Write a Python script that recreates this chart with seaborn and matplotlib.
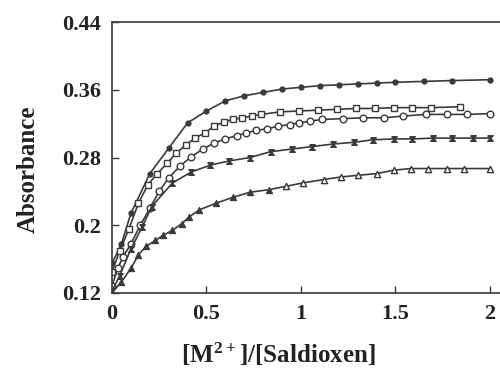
import numpy as np
import pandas as pd
import matplotlib
matplotlib.use("Agg")
import matplotlib.pyplot as plt
import seaborn as sns

# ---- data ----
x1 = [0.0, 0.05, 0.1, 0.2, 0.3, 0.4, 0.5, 0.6, 0.7, 0.8, 0.9, 1.0, 1.1, 1.2, 1.3, 1.4, 1.5, 1.65, 1.8, 2.0]
y1 = [0.155, 0.178, 0.214, 0.261, 0.291, 0.321, 0.335, 0.347, 0.353, 0.357, 0.361, 0.363, 0.365, 0.366, 0.367, 0.368, 0.369, 0.370, 0.371, 0.372]

x2 = [0.0, 0.04, 0.09, 0.14, 0.19, 0.24, 0.29, 0.34, 0.39, 0.44, 0.49, 0.54, 0.59, 0.64, 0.69, 0.74, 0.79, 0.89, 0.99, 1.09, 1.19, 1.29, 1.39, 1.49, 1.59, 1.69, 1.84]
y2 = [0.145, 0.169, 0.196, 0.226, 0.248, 0.261, 0.273, 0.285, 0.295, 0.303, 0.309, 0.317, 0.322, 0.325, 0.327, 0.329, 0.331, 0.334, 0.335, 0.336, 0.337, 0.338, 0.338, 0.339, 0.339, 0.339, 0.340]

x3 = [0.0, 0.03, 0.06, 0.1, 0.15, 0.2, 0.25, 0.3, 0.36, 0.42, 0.48, 0.54, 0.6, 0.66, 0.71, 0.76, 0.82, 0.88, 0.94, 0.99, 1.05, 1.11, 1.22, 1.33, 1.44, 1.54, 1.66, 1.77, 1.88, 2.0]
y3 = [0.128, 0.149, 0.163, 0.178, 0.200, 0.220, 0.240, 0.256, 0.270, 0.281, 0.290, 0.297, 0.302, 0.306, 0.309, 0.312, 0.314, 0.317, 0.319, 0.321, 0.323, 0.325, 0.326, 0.327, 0.327, 0.329, 0.331, 0.331, 0.331, 0.332]

x4 = [0.0, 0.04, 0.1, 0.16, 0.21, 0.32, 0.42, 0.52, 0.62, 0.73, 0.84, 0.95, 1.06, 1.17, 1.28, 1.38, 1.49, 1.59, 1.7, 1.8, 1.91, 2.0]
y4 = [0.122, 0.140, 0.172, 0.198, 0.222, 0.250, 0.263, 0.271, 0.276, 0.280, 0.287, 0.290, 0.293, 0.296, 0.298, 0.301, 0.302, 0.302, 0.303, 0.303, 0.303, 0.303]

x5 = [0.0, 0.05, 0.1, 0.14, 0.18, 0.23, 0.27, 0.32, 0.37, 0.41, 0.46, 0.55, 0.64, 0.73, 0.83, 0.92, 1.01, 1.12, 1.21, 1.3, 1.4, 1.49, 1.58, 1.67, 1.77, 1.86, 2.0]
y5 = [0.120, 0.133, 0.149, 0.165, 0.175, 0.182, 0.188, 0.194, 0.202, 0.210, 0.218, 0.226, 0.233, 0.239, 0.242, 0.246, 0.250, 0.254, 0.257, 0.259, 0.261, 0.265, 0.267, 0.267, 0.267, 0.267, 0.267]

xticks = [0, 0.5, 1, 1.5, 2]
xticklabels = ["0", "0.5", "1", "1.5", "2"]
yticks = [0.12, 0.2, 0.28, 0.36, 0.44]
yticklabels = ["0.12", "0.2", "0.28", "0.36", "0.44"]

sns.set_theme(style="white")
plt.rcParams["font.family"] = ["Liberation Serif", "DejaVu Serif"]
plt.rcParams["mathtext.fontset"] = "custom"
plt.rcParams["mathtext.rm"] = "Liberation Serif:bold"
plt.rcParams["mathtext.bf"] = "Liberation Serif:bold"
plt.rcParams["mathtext.default"] = "bf"

fig = plt.figure(figsize=(5.0, 3.76), dpi=100)
ax = fig.add_axes([0.224, 0.221, 0.776, 0.72])

col = "#3a3a3a"
hourglass = [(-1, 1), (1, 1), (-1, -1), (1, -1), (-1, 1)]

series = [
    (x1, y1, "o", col, 3.5),
    (x2, y2, "s", "white", 4.2),
    (x3, y3, "o", "white", 4.8),
    (x4, y4, hourglass, col, 4),
]
for xs, ys, mk, fc, ms in series:
    df = pd.DataFrame({"x": xs, "y": ys})
    sns.lineplot(data=df, x="x", y="y", ax=ax, color=col, lw=1.2, sort=False,
                 marker=mk, markersize=ms, markerfacecolor=fc,
                 markeredgecolor=col, markeredgewidth=1.0)

df5 = pd.DataFrame({"x": x5, "y": y5})
sns.lineplot(data=df5, x="x", y="y", ax=ax, color=col, lw=1.2, sort=False)
filled = df5[df5.x < 0.9]
opened = df5[df5.x >= 0.9]
sns.scatterplot(data=filled, x="x", y="y", ax=ax, marker="^", s=20,
                color=col, edgecolor=col, linewidth=0.8, zorder=3)
sns.scatterplot(data=opened, x="x", y="y", ax=ax, marker="^", s=20,
                facecolor="white", edgecolor=col, linewidth=1.0, zorder=3)

ax.set_xlim(0, 2.053)
ax.set_ylim(0.12, 0.44)
ax.set_xticks(xticks)
ax.set_xticklabels(xticklabels)
ax.set_yticks(yticks)
ax.set_yticklabels(yticklabels)
ax.tick_params(direction="in", length=5, width=1, color=col, labelsize=16,
               pad=8, left=True, bottom=True)
for lab in ax.get_xticklabels() + ax.get_yticklabels():
    lab.set_fontweight("bold")
    lab.set_color("#222222")

for s in ["left", "bottom", "top"]:
    ax.spines[s].set_color(col)
    ax.spines[s].set_linewidth(1.2)
ax.spines["right"].set_visible(False)

ax.set_xlabel(r"[M$^{2+}$]/[Saldioxen]", fontsize=18, fontweight="bold",
              color="#222222")
ax.set_ylabel("Absorbance", fontsize=18, fontweight="bold", color="#222222")
ax.xaxis.set_label_coords(0.428, -0.175)
ax.yaxis.set_label_coords(-0.185, 0.458)

fig.savefig("out.png", dpi=100)
